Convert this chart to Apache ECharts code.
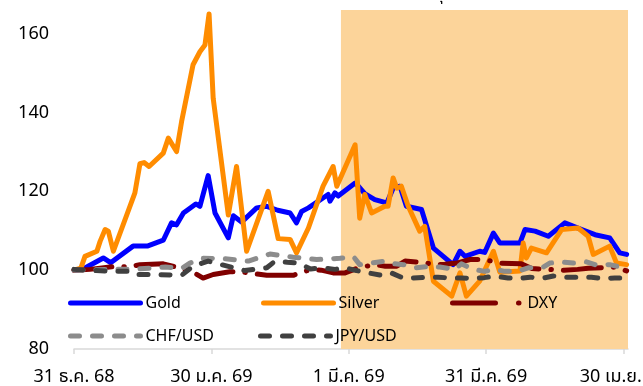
<!DOCTYPE html>
<html>
<head>
<meta charset="utf-8">
<script src="https://cdn.jsdelivr.net/npm/echarts@6/dist/echarts.min.js"></script>
<style>
html,body{margin:0;padding:0;background:#fff;}
#c{width:643px;height:386px;}
</style>
</head>
<body>
<div id="c"></div>
<script>
// x = days since 31 Dec 2025 (31 ธ.ค. 68)
const tickDays = [0, 30, 60, 90, 120];
const tickLabels = ['31 ธ.ค. 68', '30 ม.ค. 69', '1 มี.ค. 69', '31 มี.ค. 69', '30 เม.ย. 69'];
const shadeStart = 58.3, shadeEnd = 121;

const goldDays = [0,2,6.4,8,12.9,16,19.5,21.3,22.4,23.9,26.6,27.5,29.3,30.8,33.7,34.8,36.6,39.9,42.1,44.5,47.2,48.6,49.7,51.2,55.5,55.9,57,57.7,61.4,62.1,63.5,65.7,67.5,68.3,69.7,71.2,72.6,75.9,76.3,78.5,82.8,84.3,85.4,88.6,89.7,91.6,93,97.4,98.5,100.7,103.6,107.2,110.9,113.8,117,119.2,120.7];
const goldVals = [100,100.3,103.1,101.9,106.1,106.1,107.6,112,111.5,114.5,116.8,116.2,124,114.5,108.2,113.8,112.2,115.8,116.2,115.2,114.5,112,114.9,115.8,119.2,117.5,119.6,118.8,122.1,121.3,119.4,117.9,117.3,117,120.8,121.3,116.2,115.4,114.9,105.6,101.4,104.8,103.5,104.8,104.5,109.4,106.9,106.9,110.3,109.9,108.6,112,110.3,109,108.2,104.4,104];

const silverDays = [0,1.5,2.4,5,5.7,6.8,7.5,8.6,13.3,14.4,15.3,16.4,19.5,20.6,22.4,23.5,26,27.5,28.6,29.5,30.4,33.7,35.5,37.7,42.4,44.6,47.2,48.6,51.2,54.4,56.6,57.4,61.4,62.4,63.5,65,67.9,68.6,69.7,70.5,71.5,73,75.5,76.6,78.5,82.5,84.3,85.7,88.6,91.6,93,97.4,98.1,98.8,99.9,103.2,106.5,110.1,112.3,113.4,117,118.5,120.7];
const silverVals = [100,100.5,103.5,104.8,107.3,110.3,109.9,104.8,119.6,127,127.3,126.3,129.7,133.5,130.1,137.7,152.1,155.4,157.1,165,143.6,114,126.3,104.8,120,108,107.8,104.4,110.7,121.3,126.3,121.3,131.8,113.2,119.2,114.5,116.2,116.2,123.4,120.8,121.3,116.2,109.9,111.1,97.2,93.4,99.3,93.4,97.2,104.8,99.5,99.8,106.9,103.1,105.6,104.4,110.3,110.7,108.6,104,106.1,101.8,101.4];

const dxyDays = [0,3.5,9.3,12,14.4,19.5,23.5,26,28.2,30.4,34,36.2,39,42.1,47.9,50.4,51.9,54,56.6,59.2,62.1,65.7,68,70.5,72.3,77,78.8,81,83.6,86.5,88.6,90.8,93,97.7,100,107,110,112.3,118.5,120.7];
const dxyVals = [100,100.2,101,100.8,101.4,101.6,100.4,99.5,98,98.9,99.6,99.6,99.2,98.7,98.7,99.7,100.2,100,99.3,99.3,100.6,101.4,101,101,102.3,101.8,101.4,101.5,101.8,102.7,102.7,102.4,101.8,101.6,100.4,100,100.2,100.5,100.8,99.8];

const chfDays = [0,8,14,20,23.5,25.3,28.2,33,38.1,42.8,47.9,53,58.1,61,62.4,65,67.9,70.1,72,74.8,77.7,79.9,83.2,84.6,87.2,89.7,91.9,94.1,97,99.2,102.5,103.9,106.5,109,111.9,114.1,117,119.2,120.7];
const chfVals = [100,100.2,100.3,100.8,100.4,101.8,103,102.9,102.3,104.1,103.3,102.7,103,103.5,101.4,101.8,102.3,101.6,101.4,100.6,101,100.8,100.2,101.6,100.2,99.7,100.2,99.7,99.7,100.6,100.8,101.8,102.1,101.8,102.1,101.3,101.4,100.8,100.8];

const jpyDays = [0,3,8.2,12.2,13.3,18,23.5,26,29.3,32.2,37.3,42.1,43.9,46.6,49,51.7,54.1,57,59.2,61.7,64.3,67.2,69.3,71.9,74.1,77,79.5,82.5,84.6,87.6,89.6,91.9,94.8,97.4,99.6,102.5,104.7,107.6,109.8,113,115.2,118.1,120.7];
const jpyVals = [100.2,100,99.7,99.7,98.9,98.9,98.7,101,102.3,101.4,99.9,100.6,102.3,102,101.8,100.3,100.6,100.2,100.6,99.9,99.3,98.7,99.3,98,98,98.2,98.2,98,98,97.9,98.1,98.5,98,97.9,98.2,98,98.5,98.2,98.2,98.2,97.9,98,98];

const names = ['Gold', 'Silver', 'DXY', 'CHF/USD', 'JPY/USD'];
const colors = ['#0000ff', '#ff8c00', '#800000', '#8c8c8c', '#404040'];

function pairs(d, v) { return d.map((x, i) => [x, v[i]]); }

const FONT = '"Noto Sans", "Noto Sans Thai", Tahoma, sans-serif';
const chart = echarts.init(document.getElementById('c'), null, {renderer: 'canvas'});

const dashes = [null, null, [38, 12, 0.5, 12], [9, 13], [9, 13]];
const legendDashes = [null, null, [43, 23, 0.5, 60], [9, 13], [9, 13]];
const seriesData = [pairs(goldDays, goldVals), pairs(silverDays, silverVals), pairs(dxyDays, dxyVals), pairs(chfDays, chfVals), pairs(jpyDays, jpyVals)];

const legendPos = [[68, 295], [261, 295], [450, 295], [68, 328], [258, 328]];
const legends = names.map((n, i) => ({
  data: [n], left: legendPos[i][0], top: legendPos[i][1], padding: 0,
  itemWidth: 70, itemHeight: 16, selectedMode: false,
  textStyle: {fontFamily: FONT, fontSize: 16, color: '#000'},
  itemStyle: {opacity: 0, borderWidth: 0},
  lineStyle: {width: 5, cap: 'round', type: legendDashes[i] || 'solid'}
}));

const series = [{
  type: 'line', data: [], silent: true, z: 0,
  markArea: {silent: true, itemStyle: {color: '#fcd49a'}, data: [[{xAxis: shadeStart}, {xAxis: shadeEnd}]]}
}].concat(names.map((n, i) => ({
  name: n, type: 'line', data: seriesData[i], symbol: 'none', z: 2 + i,
  lineStyle: {color: colors[i], width: 5, cap: 'round', join: 'round', type: dashes[i] || 'solid'},
  itemStyle: {color: colors[i]}
})));

chart.setOption({
  animation: false,
  textStyle: {fontFamily: FONT},
  grid: {left: 74, right: 15, top: 10, bottom: 37, containLabel: false, outerBoundsMode: 'none'},
  legend: legends,
  graphic: [{type: 'text', left: 434, top: -13, style: {text: 'ทุ', font: '16px ' + FONT, fill: '#000'}}],
  xAxis: {
    type: 'value', min: 0, max: shadeEnd,
    axisLine: {lineStyle: {color: '#d9d9d9', width: 1.5}},
    axisTick: {show: true, length: 5, customValues: tickDays, lineStyle: {color: '#d9d9d9', width: 1.5}},
    splitLine: {show: false},
    axisLabel: {customValues: tickDays, margin: 19, fontFamily: FONT, fontSize: 18, color: '#000',
      formatter: v => tickLabels[tickDays.indexOf(v)] || ''}
  },
  yAxis: {
    type: 'value', min: 80, max: 166, interval: 20,
    axisLine: {show: false}, axisTick: {show: false}, splitLine: {show: false},
    axisLabel: {margin: 25, fontFamily: FONT, fontSize: 18, color: '#000', showMaxLabel: false}
  },
  series: series
});
</script>
</body>
</html>
